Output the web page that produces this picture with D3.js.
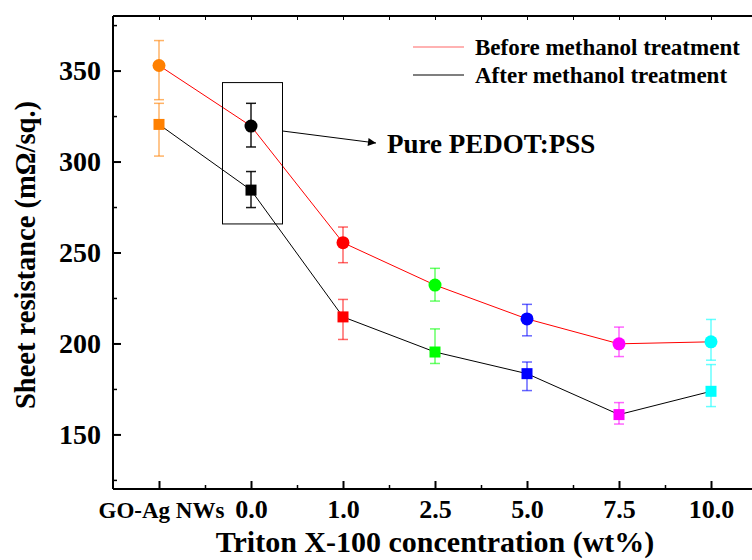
<!DOCTYPE html>
<html>
<head>
<meta charset="utf-8">
<script src="https://cdn.jsdelivr.net/npm/d3@7"></script>
<style>
  body { margin: 0; background: #fff; }
  text { font-family: "Liberation Serif", "Times New Roman", serif; font-weight: bold; }
</style>
</head>
<body>
<script>
const WIDTH = 752;
const HEIGHT = 560;

// categorias y valores
const categorias = ["GO-Ag NWs", "0.0", "1.0", "2.5", "5.0", "7.5", "10.0"];
const colores = ["#ff8000", "#000000", "#ff0000", "#00ff00", "#0000ff", "#ff00ff", "#00ffff"];

const antes = [352.8, 319.5, 255.4, 232.1, 213.5, 199.8, 200.9];
const antesSup = [366.5, 332, 264, 241.3, 221.5, 209, 213.2];
const antesInf = [334, 308, 244.4, 223.3, 204.2, 192.8, 190.8];

const despues = [320.4, 284.3, 214.6, 195.3, 183.4, 160.9, 173.7];
const despuesSup = [332, 294.5, 224.2, 208, 189.8, 167.5, 188.4];
const despuesInf = [303, 274.7, 202.2, 189, 174.1, 155.7, 165.3];

const ticksY = [150, 200, 250, 300, 350];
const ticksYmenor = [125, 175, 225, 275, 325, 375];

const SVG = d3.select("body").append("svg")
  .attr("width", WIDTH)
  .attr("height", HEIGHT);

const margen = { left: 113, top: 16, bottom: 489, right: 757 };

const x = d3.scaleLinear().domain([-0.5, 6.5]).range([margen.left, margen.right]);
const y = d3.scaleLinear().domain([120, 380]).range([margen.bottom, margen.top]);

// marco
SVG.append("line")
  .attr("x1", margen.left).attr("x2", margen.right)
  .attr("y1", margen.top).attr("y2", margen.top)
  .attr("stroke", "#000").attr("stroke-width", 2);

// ticks de arriba
const mitades = d3.range(0, 7, 0.5);
SVG.append("g")
  .attr("transform", `translate(0,${margen.top})`)
  .call(d3.axisTop(x).tickValues(mitades).tickSize(-4).tickFormat(""))
  .call(g => g.select(".domain").remove());

// eje X
const ejeX = SVG.append("g").attr("transform", `translate(0,${margen.bottom})`);
ejeX.call(d3.axisBottom(x).tickValues(d3.range(0, 7)).tickSize(-8).tickFormat((d, i) => categorias[i]))
  .call(g => g.select(".domain").attr("stroke-width", 2).attr("d", `M${margen.left},0H${margen.right}`))
  .call(g => g.selectAll(".tick line").attr("stroke-width", 2))
  .call(g => g.selectAll(".tick text")
    .attr("fill", "#000")
    .attr("y", 29)
    .attr("dy", 0)
    .attr("dx", (d, i) => i === 0 ? 2 : 0)
    .style("font-size", (d, i) => i === 0 ? "23px" : "26px"));
ejeX.append("g")
  .call(d3.axisBottom(x).tickValues(d3.range(0.5, 6.5, 1)).tickSize(-4).tickFormat(""))
  .call(g => g.select(".domain").remove())
  .call(g => g.selectAll(".tick line").attr("stroke-width", 1.5));

// eje Y
const ejeY = SVG.append("g").attr("transform", `translate(${margen.left},0)`);
ejeY.call(d3.axisLeft(y).tickValues(ticksY).tickSize(-8))
  .call(g => g.select(".domain").attr("stroke-width", 2).attr("d", `M0,${margen.top}V${margen.bottom}`))
  .call(g => g.selectAll(".tick line").attr("stroke-width", 2))
  .call(g => g.selectAll(".tick text")
    .attr("fill", "#000")
    .attr("x", -12)
    .style("font-size", "28px"));
ejeY.append("g")
  .call(d3.axisLeft(y).tickValues(ticksYmenor).tickSize(-4).tickFormat(""))
  .call(g => g.select(".domain").remove())
  .call(g => g.selectAll(".tick line").attr("stroke-width", 1.5));

// titulos
SVG.append("text")
  .attr("x", 435).attr("y", 552)
  .attr("text-anchor", "middle")
  .style("font-size", "30px")
  .text("Triton X-100 concentration (wt%)");

SVG.append("text")
  .attr("transform", "translate(35,255) rotate(-90)")
  .attr("text-anchor", "middle")
  .style("font-size", "28.5px")
  .text("Sheet resistance (mΩ/sq.)");

// lineas
const linea = d3.line().x((d, i) => x(i)).y(d => y(d));
SVG.append("path").datum(antes)
  .attr("d", linea).attr("fill", "none").attr("stroke", "#ff0000").attr("stroke-width", 1);
SVG.append("path").datum(despues)
  .attr("d", linea).attr("fill", "none").attr("stroke", "#000").attr("stroke-width", 1);

// barras de error
const barras = (sup, inf) => {
  const g = SVG.append("g").attr("stroke-width", 1.5);
  categorias.forEach((c, i) => {
    const col = colores[i];
    const op = i === 1 ? 0.9 : 0.6;
    g.append("line").attr("x1", x(i)).attr("x2", x(i)).attr("y1", y(sup[i])).attr("y2", y(inf[i]))
      .attr("stroke", col).attr("stroke-opacity", op);
    [sup[i], inf[i]].forEach(v => {
      g.append("line").attr("x1", x(i) - 5).attr("x2", x(i) + 5).attr("y1", y(v)).attr("y2", y(v))
        .attr("stroke", col).attr("stroke-opacity", op);
    });
  });
};
barras(antesSup, antesInf);
barras(despuesSup, despuesInf);

// marcadores
SVG.append("g").selectAll("circle").data(antes).join("circle")
  .attr("cx", (d, i) => x(i)).attr("cy", d => y(d)).attr("r", 6.5)
  .attr("fill", (d, i) => colores[i]);
SVG.append("g").selectAll("rect").data(despues).join("rect")
  .attr("x", (d, i) => x(i) - 5.5).attr("y", d => y(d) - 5.5)
  .attr("width", 11).attr("height", 11)
  .attr("fill", (d, i) => colores[i]);

// recuadro y flecha
SVG.append("defs").append("marker")
  .attr("id", "punta").attr("viewBox", "0 0 10 10")
  .attr("refX", 10).attr("refY", 5)
  .attr("markerWidth", 12).attr("markerHeight", 8)
  .attr("markerUnits", "userSpaceOnUse")
  .attr("orient", "auto")
  .append("path").attr("d", "M0,0L10,5L0,10Z").attr("fill", "#000");

SVG.append("rect")
  .attr("x", x(1) - 28.5).attr("y", y(343.4))
  .attr("width", 60).attr("height", y(265.7) - y(343.4))
  .attr("fill", "none").attr("stroke", "#000").attr("stroke-width", 1);

SVG.append("line")
  .attr("x1", x(1) + 31.5).attr("y1", 131)
  .attr("x2", 376).attr("y2", 143)
  .attr("stroke", "#000").attr("stroke-width", 1)
  .attr("marker-end", "url(#punta)");

SVG.append("text")
  .attr("x", 387).attr("y", 153)
  .style("font-size", "27px")
  .text("Pure PEDOT:PSS");

// leyenda
const leyenda = [
  { nombre: "Before methanol treatment", color: "#ff6666", y: 47 },
  { nombre: "After methanol treatment", color: "#000", y: 75 }
];
const gl = SVG.append("g");
leyenda.forEach(l => {
  gl.append("line").attr("x1", 413).attr("x2", 464).attr("y1", l.y).attr("y2", l.y)
    .attr("stroke", l.color).attr("stroke-width", 1.2);
  gl.append("text").attr("x", 475).attr("y", l.y + 8)
    .style("font-size", "23px").text(l.nombre);
});
</script>
</body>
</html>
